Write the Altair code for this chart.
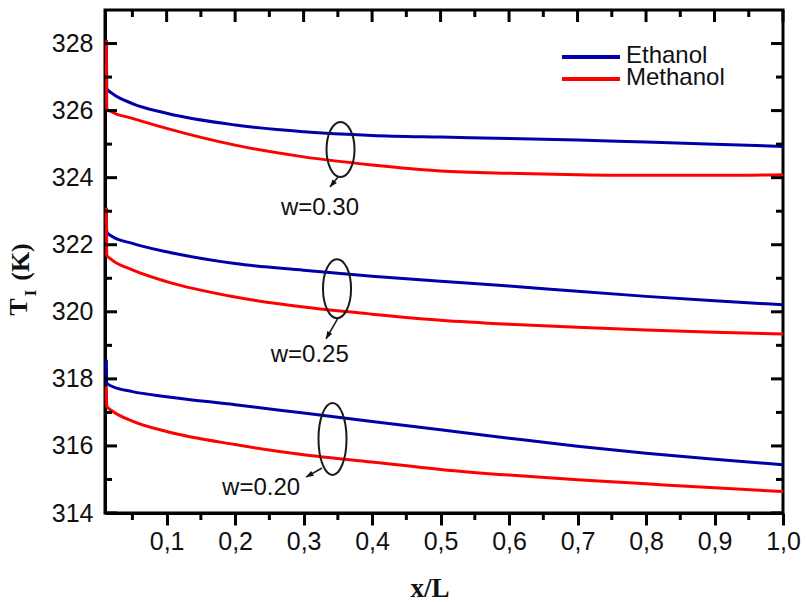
import altair as alt
import pandas as pd

# ---------------- data ----------------
x_pos = [0.012, 0.0125, 0.02, 0.05, 0.1, 0.2, 0.3, 0.4, 0.5, 0.6, 0.7, 0.8, 0.9, 1.0]
eth_030 = [328.1, 326.66, 326.52, 326.21, 325.92, 325.57, 325.37, 325.26, 325.21, 325.17, 325.12, 325.06, 325.00, 324.93]
met_030 = [328.1, 326.06, 325.96, 325.77, 325.47, 324.97, 324.62, 324.38, 324.20, 324.13, 324.09, 324.07, 324.07, 324.09]
eth_025 = [323.1, 322.39, 322.25, 322.04, 321.79, 321.44, 321.24, 321.06, 320.91, 320.77, 320.61, 320.46, 320.33, 320.21]
met_025 = [323.1, 321.69, 321.55, 321.25, 320.90, 320.44, 320.14, 319.93, 319.75, 319.63, 319.54, 319.46, 319.39, 319.34]
eth_020 = [318.57, 317.87, 317.78, 317.62, 317.47, 317.23, 316.98, 316.73, 316.48, 316.23, 315.99, 315.78, 315.60, 315.44]
met_020 = [317.77, 317.18, 317.05, 316.74, 316.43, 316.04, 315.74, 315.52, 315.30, 315.13, 314.99, 314.87, 314.75, 314.64]

series_names = ["Ethanol", "Methanol"]
series_colors = ["#0000A8", "#FF0000"]
w_labels = ["w=0.30", "w=0.25", "w=0.20"]

x_major = [0.1, 0.2, 0.3, 0.4, 0.5, 0.6, 0.7, 0.8, 0.9, 1.0]
x_minor = [0.05, 0.15, 0.25, 0.35, 0.45, 0.55, 0.65, 0.75, 0.85, 0.95]
y_major = [314, 316, 318, 320, 322, 324, 326, 328]
y_minor = [315, 317, 319, 321, 323, 325, 327]

# annotation anchors (data coordinates)
ell_x = [0.3539, 0.3488, 0.3422]
ell_y = [324.84, 320.69, 316.21]
ell_rx = [14, 14, 14]
ell_ry = [27.5, 29.5, 36]
arr_x0 = [0.3502, 0.3502, 0.3269]
arr_y0 = [324.02, 319.81, 315.34]
arr_x1 = [0.3385, 0.3327, 0.3035]
arr_y1 = [323.72, 319.19, 315.07]
arr_angle = [218.7, 209.7, 240.6]
lab_x = [0.324, 0.309, 0.238]
lab_y = [323.09, 318.71, 314.74]

W, H = 678, 503
XD = [0.01, 1.0]
YD = [314, 329]
SANS = "Liberation Sans"
SERIF = "Liberation Serif"
INK = "#111111"

xs = alt.Scale(domain=XD, nice=False, zero=False)
ys = alt.Scale(domain=YD, nice=False, zero=False)

x_axis = alt.Axis(values=x_major, labelExpr="replace(format(datum.value, '.1f'), '.', ',')",
                  grid=False, tickSize=12, tickWidth=3, tickColor="black",
                  domainWidth=3, domainColor="black", labelFont=SANS, labelFontSize=25,
                  labelColor=INK, labelPadding=4, labelFlush=False, labelOverlap=False, title=None)
y_axis = alt.Axis(values=y_major, grid=False, ticks=False, domainWidth=3, domainColor="black",
                  labelFont=SANS, labelFontSize=25, labelColor=INK, labelPadding=12,
                  labelOverlap=False, title=None)


def X(f):
    return alt.X(f, scale=xs, axis=x_axis)


def Y(f):
    return alt.Y(f, scale=ys, axis=y_axis)


# ---------------- curves ----------------
def series_df(fluid, groups):
    rows = []
    for w, vals in groups:
        for xv, tv in zip(x_pos, vals):
            rows.append({"x": xv, "T": tv, "fluid": fluid, "w": w})
    return pd.DataFrame(rows)


eth_df = series_df("Ethanol", [("0.30", eth_030), ("0.25", eth_025), ("0.20", eth_020)])
met_df = series_df("Methanol", [("0.30", met_030), ("0.25", met_025), ("0.20", met_020)])


def curve_layer(df, color):
    return alt.Chart(df).mark_line(strokeWidth=3, interpolate="monotone", color=color).encode(
        x=X("x:Q"), y=Y("T:Q"), detail="w:N")


layers = [curve_layer(eth_df, series_colors[0]), curve_layer(met_df, series_colors[1])]


# ---------------- inner ticks (mirror axes) ----------------
def yticks(vals, x0, x1):
    return alt.Chart(pd.DataFrame({"v": vals})).mark_rule(color="black", strokeWidth=3).encode(
        y=Y("v:Q"), x=alt.value(x0), x2=alt.value(x1))


def xticks(vals, y0, y1):
    return alt.Chart(pd.DataFrame({"v": vals})).mark_rule(color="black", strokeWidth=3).encode(
        x=X("v:Q"), y=alt.value(y0), y2=alt.value(y1))


layers += [
    yticks(y_major, 0, 12), yticks(y_minor, 0, 7),
    yticks(y_major, W - 12, W), yticks(y_minor, W - 7, W),
    xticks(x_major, 0, 12), xticks(x_minor, 0, 7),
    xticks(x_minor, H, H + 7),
]


# ---------------- annotations ----------------
def ellipse_path(a):
    k = 0.5523
    b = 1.0
    return (f"M{a},0 C{a},{k*b} {k*a},{b} 0,{b} C{-k*a},{b} {-a},{k*b} {-a},0 "
            f"C{-a},{-k*b} {-k*a},{-b} 0,{-b} C{k*a},{-b} {a},{-k*b} {a},0 Z")


arrow_path = "M0,0 L-0.38,1 L0.38,1 Z"

for i in range(3):
    one = pd.DataFrame({"x": [ell_x[i]], "y": [ell_y[i]]})
    layers.append(alt.Chart(one).mark_point(
        shape=ellipse_path(round(ell_rx[i] / ell_ry[i], 3)), size=(2 * ell_ry[i]) ** 2,
        filled=False, stroke="#1a1a1a", strokeWidth=2, opacity=1).encode(
        x=X("x:Q"), y=Y("y:Q")))
    seg = pd.DataFrame({"x": [arr_x0[i]], "y": [arr_y0[i]], "x2": [arr_x1[i]], "y2": [arr_y1[i]]})
    layers.append(alt.Chart(seg).mark_rule(color="#1a1a1a", strokeWidth=1.6).encode(
        x=X("x:Q"), y=Y("y:Q"), x2="x2:Q", y2="y2:Q"))
    tip = pd.DataFrame({"x": [arr_x1[i]], "y": [arr_y1[i]]})
    layers.append(alt.Chart(tip).mark_point(
        shape=arrow_path, size=225, filled=True, fill="#111111",
        angle=arr_angle[i], opacity=1).encode(x=X("x:Q"), y=Y("y:Q")))
    lab = pd.DataFrame({"x": [lab_x[i]], "y": [lab_y[i]], "t": [w_labels[i]]})
    layers.append(alt.Chart(lab).mark_text(font=SANS, fontSize=24, color=INK,
                                           align="center", baseline="middle").encode(
        x=X("x:Q"), y=Y("y:Q"), text="t:N"))

# ---------------- legend ----------------
leg_y = [47, 69]
for name, col, ly in zip(series_names, series_colors, leg_y):
    d = pd.DataFrame({"t": [name]})
    layers.append(alt.Chart(d).mark_rule(color=col, strokeWidth=4).encode(
        x=alt.value(457), x2=alt.value(515), y=alt.value(ly)))
    layers.append(alt.Chart(d).mark_text(font=SANS, fontSize=24, color=INK, align="left",
                                         baseline="middle").encode(
        x=alt.value(521), y=alt.value(ly - 1), text="t:N"))


# ---------------- axis titles ----------------
def label(txt, x, y, size, angle=0):
    d = pd.DataFrame({"t": [txt]})
    kw = dict(font=SERIF, fontSize=size, fontWeight="bold", color=INK, align="center", baseline="middle")
    if angle:
        kw["angle"] = angle
    return alt.Chart(d).mark_text(**kw).encode(x=alt.value(x), y=alt.value(y), text="t:N")


layers += [
    label("x/L", 325, 579, 27),
    label("T", -86, 297, 26, 270),
    label("I", -74, 283, 17, 270),
    label("(K)", -84, 252, 26, 270),
]

chart = alt.layer(*layers).properties(
    width=W, height=H,
    autosize=alt.AutoSizeParams(type="none"),
    padding={"left": 105, "top": 10, "right": 23, "bottom": 89},
    background="white",
).configure_view(stroke="black", strokeWidth=3)

chart.save("out.html", embed_options={"renderer": "svg", "actions": False})
